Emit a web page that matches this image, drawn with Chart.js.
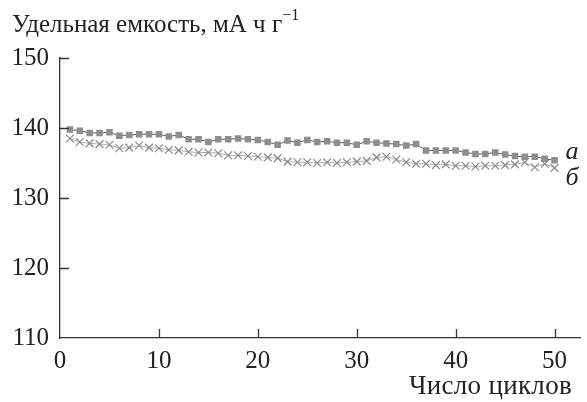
<!DOCTYPE html>
<html>
<head>
<meta charset="utf-8">
<script src="https://cdn.jsdelivr.net/npm/chart.js@4"></script>
</head>
<body style="margin:0;background:#fff">
<div id="wrap" style="position:relative;width:587px;height:402px;">
  <canvas id="myChart" width="587" height="402"></canvas>
  <div style="position:absolute;left:12px;top:9px;font-family:'Liberation Serif';font-size:25px;color:#222;white-space:nowrap">Удельная емкость, мА ч г<sup style="font-size:16px;position:relative;top:-3px">−1</sup></div>
  <div style="position:absolute;right:15px;top:370px;font-family:'Liberation Serif';font-size:27px;letter-spacing:0.3px;color:#222;white-space:nowrap">Число циклов</div>
</div>
<script>
const cycles = [1,2,3,4,5,6,7,8,9,10,11,12,13,14,15,16,17,18,19,20,21,22,23,24,25,
                26,27,28,29,30,31,32,33,34,35,36,37,38,39,40,41,42,43,44,45,46,47,48,49,50];
const seriesA = [139.8,139.6,139.3,139.3,139.4,138.9,139.0,139.1,139.1,139.1,
                 138.8,139.0,138.4,138.4,138.0,138.4,138.4,138.5,138.4,138.3,
                 138.0,137.6,138.2,137.9,138.3,138.0,138.1,137.9,137.9,137.6,
                 138.1,137.9,137.8,137.7,137.5,137.7,136.8,136.8,136.8,136.8,
                 136.5,136.3,136.3,136.5,136.2,136.0,135.9,135.9,135.6,135.4];
const seriesB = [138.5,138.0,137.8,137.7,137.6,137.1,137.2,137.5,137.2,137.1,
                 136.9,136.8,136.6,136.5,136.5,136.4,136.1,136.1,136.0,135.9,
                 135.8,135.7,135.2,135.1,135.1,135.0,135.1,135.0,135.1,135.2,
                 135.3,135.8,135.9,135.5,135.1,134.9,134.9,134.7,134.8,134.6,
                 134.6,134.5,134.6,134.6,134.7,134.8,135.1,134.4,134.9,134.3];
const seriesLabels = ['а', 'б'];
const xTicks = [0, 10, 20, 30, 40, 50];
const yTicks = [110, 120, 130, 140, 150];

const serif = "'Liberation Serif'";
Chart.defaults.font.family = serif;
const tickFont = { family: serif, size: 25 };

// inward tick marks + series letters at the end of each line
const extras = {
    id: 'extras',
    afterDraw(chart) {
        const c = chart.ctx;
        const x = chart.scales.x, y = chart.scales.y;
        c.save();
        c.strokeStyle = '#333';
        c.lineWidth = 1.3;
        c.beginPath();
        xTicks.forEach(v => {
            if (v === 0) return;
            const px = Math.round(x.getPixelForValue(v)) + 0.5;
            c.moveTo(px, y.bottom);
            c.lineTo(px, y.bottom - 9);
        });
        yTicks.forEach(v => {
            if (v === 110) return;
            const py = Math.round(y.getPixelForValue(v)) + 0.5;
            c.moveTo(x.left, py);
            c.lineTo(x.left + 9, py);
        });
        c.stroke();

        c.fillStyle = '#222';
        c.font = 'italic 26px ' + serif;
        c.textAlign = 'left';
        c.textBaseline = 'alphabetic';
        const pa = chart.getDatasetMeta(0).data[cycles.length - 1];
        const pb = chart.getDatasetMeta(1).data[cycles.length - 1];
        c.fillText(seriesLabels[0], pa.x + 11, pa.y - 1);
        c.fillText(seriesLabels[1], pb.x + 11, pb.y + 17);
        c.restore();
    }
};

const ctx = document.getElementById('myChart');
const capacity = new Chart(ctx, {
    type: 'line',
    data: {
        labels: cycles,
        datasets: [{
            label: seriesLabels[0],
            data: cycles.map((c, i) => ({ x: c, y: seriesA[i] })),
            borderColor: '#5a5a5a',
            borderWidth: 1,
            pointStyle: 'rect',
            pointRadius: 4.6,
            pointBackgroundColor: '#8e8e8e',
            pointBorderColor: '#8e8e8e',
            pointBorderWidth: 0,
            tension: 0
        }, {
            label: seriesLabels[1],
            data: cycles.map((c, i) => ({ x: c, y: seriesB[i] })),
            borderColor: '#b0b0b0',
            borderWidth: 1,
            pointStyle: 'crossRot',
            pointRadius: 5.5,
            pointBorderColor: '#8a8a8a',
            pointBorderWidth: 1.2,
            tension: 0
        }]
    },
    options: {
        responsive: false,
        animation: false,
        layout: { padding: { top: 58, right: 1, left: 0, bottom: 0 } },
        plugins: { legend: { display: false }, tooltip: { enabled: false } },
        scales: {
            x: {
                type: 'linear',
                min: 0,
                max: 52.6,
                afterBuildTicks: s => { s.ticks = xTicks.map(v => ({ value: v })); },
                afterFit: s => { s.height = 64; },
                grid: { display: false, drawTicks: false },
                border: { display: true, color: '#333', width: 1.3 },
                ticks: { font: tickFont, color: '#222', padding: 8, maxRotation: 0 }
            },
            y: {
                min: 110,
                max: 150,
                afterBuildTicks: s => { s.ticks = yTicks.map(v => ({ value: v })); },
                afterFit: s => { s.width = 60; },
                grid: { display: false, drawTicks: false },
                border: { display: true, color: '#333', width: 1.3 },
                ticks: { font: tickFont, color: '#222', padding: 11 }
            }
        }
    },
    plugins: [extras]
});
</script>
</body>
</html>
